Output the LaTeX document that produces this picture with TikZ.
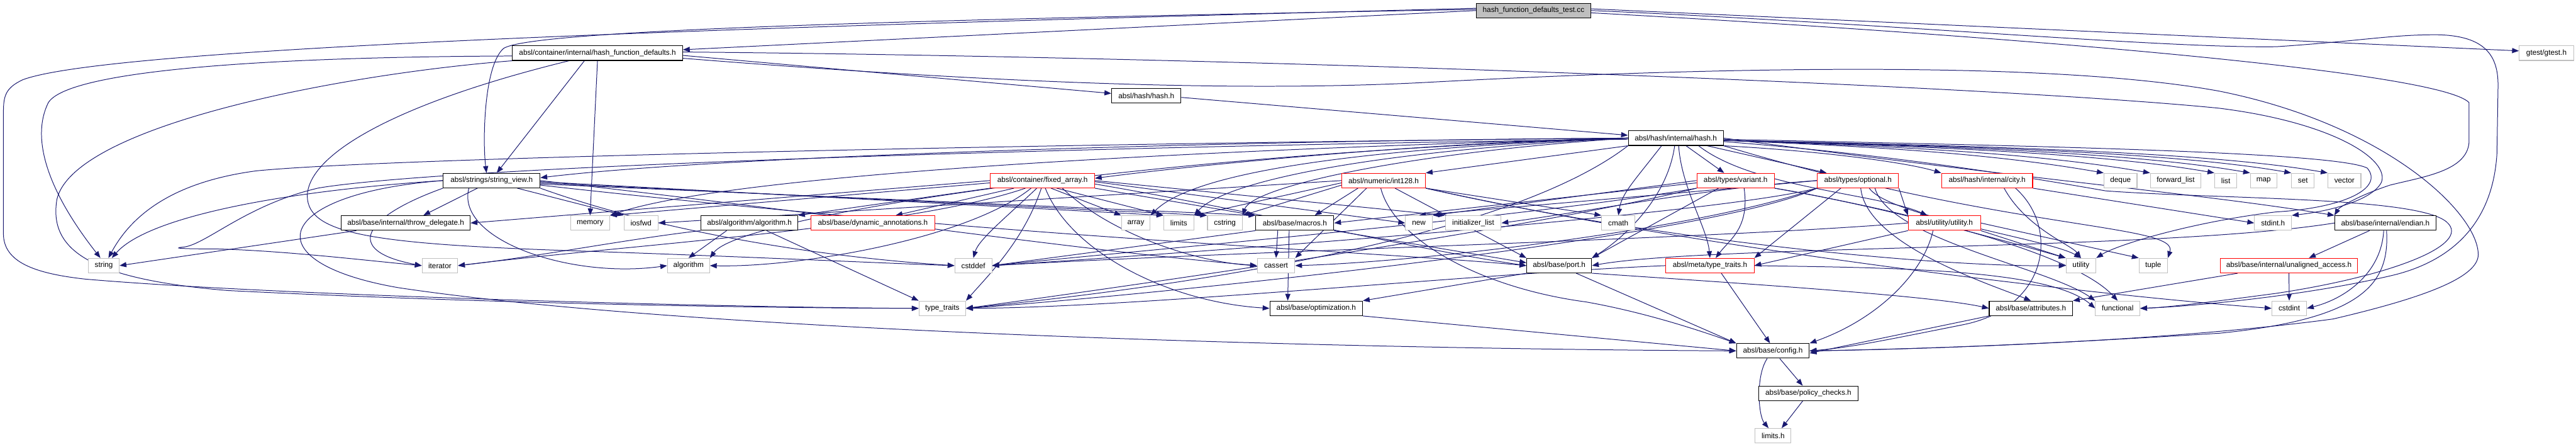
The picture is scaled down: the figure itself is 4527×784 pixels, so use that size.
\documentclass[tikz,border=0pt]{standalone}
\usepackage{fontspec}
\setmainfont{Liberation Sans}
\usetikzlibrary{arrows.meta,backgrounds}
\definecolor{edgeblue}{RGB}{25,25,112}
\definecolor{sysgray}{RGB}{191,191,191}
\definecolor{rootgray}{RGB}{191,191,191}
\definecolor{truncred}{RGB}{255,0,0}

\begin{document}
\begin{tikzpicture}[x=1pt,y=1pt,
    box/.style={draw, line width=1.2pt, fill=white, minimum height=25.6pt, inner xsep=0pt, inner ysep=0pt, font=\fontsize{13}{15}\selectfont},
    doc/.style={box, draw=black},
    trunc/.style={box, draw=truncred},
    sysh/.style={box, draw=sysgray},
    rootfile/.style={box, draw=black, fill=rootgray},
    edge/.style={draw=edgeblue, line width=1.1pt, -{Triangle[length=12pt,width=9pt]}}]
      \useasboundingbox (0,0) rectangle (4527,-784);
      % rows 0-3
      \node[rootfile, minimum width=201pt] (root) at (2695,-18.5) {hash\_function\_defaults\_test.cc};
      \node[doc, minimum width=299pt] (hfd) at (1050,-93.3) {absl/container/internal/hash\_function\_defaults.h};
      \node[sysh, minimum width=95.5pt] (gtest) at (4475,-93.3) {gtest/gtest.h};
      \node[doc, minimum width=122pt] (hash) at (2014.5,-168) {absl/hash/hash.h};
      \node[doc, minimum width=167pt] (ihash) at (2945,-242.5) {absl/hash/internal/hash.h};
      % row 4
      \node[doc, minimum width=170pt] (sview) at (864,-317) {absl/strings/string\_view.h};
      \node[trunc, minimum width=183pt] (fixedarr) at (1832,-317) {absl/container/fixed\_array.h};
      \node[trunc, minimum width=147pt] (int128) at (2431.5,-317) {absl/numeric/int128.h};
      \node[trunc, minimum width=136pt] (variant) at (3050,-317) {absl/types/variant.h};
      \node[trunc, minimum width=143pt] (optional) at (3265,-317) {absl/types/optional.h};
      \node[trunc, minimum width=160pt] (city) at (3492,-317) {absl/hash/internal/city.h};
      \node[sysh, minimum width=58pt] (deque) at (3726.5,-317) {deque};
      \node[sysh, minimum width=89pt] (fwdlist) at (3823.5,-317) {forward\_list};
      \node[sysh, minimum width=39pt] (stdlist) at (3911.5,-317) {list};
      \node[sysh, minimum width=46.5pt] (stdmap) at (3978,-317) {map};
      \node[sysh, minimum width=40pt] (stdset) at (4047,-317) {set};
      \node[sysh, minimum width=58pt] (vector) at (4120,-317) {vector};
      % row 5
      \node[doc, minimum width=226.5pt] (throwd) at (713,-391.5) {absl/base/internal/throw\_delegate.h};
      \node[sysh, minimum width=69pt] (memory) at (1037,-391.5) {memory};
      \node[sysh, minimum width=60pt] (iosfwd) at (1126.5,-391.5) {iosfwd};
      \node[doc, minimum width=170pt] (algoh) at (1317,-391.5) {absl/algorithm/algorithm.h};
      \node[trunc, minimum width=217pt] (dynann) at (1534,-391.5) {absl/base/dynamic\_annotations.h};
      \node[sysh, minimum width=50.5pt] (array) at (1996,-391.5) {array};
      \node[sysh, minimum width=53pt] (limits) at (2071.5,-391.5) {limits};
      \node[sysh, minimum width=61pt] (cstring) at (2152.5,-391.5) {cstring};
      \node[doc, minimum width=137pt] (macros) at (2275.5,-391.5) {absl/base/macros.h};
      \node[sysh, minimum width=47pt] (new) at (2493.5,-391.5) {new};
      \node[sysh, minimum width=98pt] (initlist) at (2589,-391.5) {initializer\_list};
      \node[sysh, minimum width=58.5pt] (cmath) at (2844,-391.5) {cmath};
      \node[trunc, minimum width=127pt] (utilh) at (3417,-391.5) {absl/utility/utility.h};
      \node[sysh, minimum width=65pt] (stdinth) at (3994.5,-391.5) {stdint.h};
      \node[doc, minimum width=178pt] (endian) at (4192,-391.5) {absl/base/internal/endian.h};
      % row 6
      \node[sysh, minimum width=54pt] (string) at (182.5,-466.3) {string};
      \node[sysh, minimum width=62.5pt] (iterator) at (773,-466.3) {iterator};
      \node[sysh, minimum width=74pt] (algorithm) at (1210,-466.3) {algorithm};
      \node[sysh, minimum width=65pt] (cstddef) at (1710.5,-466.3) {cstddef};
      \node[sysh, minimum width=66pt] (cassert) at (2242.5,-466.3) {cassert};
      \node[doc, minimum width=114pt] (port) at (2740,-466.3) {absl/base/port.h};
      \node[trunc, minimum width=155pt] (metatt) at (3005,-466.3) {absl/meta/type\_traits.h};
      \node[sysh, minimum width=52.6pt] (utility) at (3657,-466.3) {utility};
      \node[sysh, minimum width=50pt] (tuple) at (3784,-466.3) {tuple};
      \node[trunc, minimum width=241.7pt] (unaligned) at (4022.5,-466.3) {absl/base/internal/unaligned\_access.h};
      % row 7-10
      \node[sysh, minimum width=82pt] (typetraits) at (1656,-541.3) {type\_traits};
      \node[doc, minimum width=163pt] (optim) at (2313,-541.3) {absl/base/optimization.h};
      \node[doc, minimum width=146.5pt] (attributes) at (3569,-541.3) {absl/base/attributes.h};
      \node[sysh, minimum width=78pt] (functional) at (3721.5,-541.3) {functional};
      \node[sysh, minimum width=61pt] (cstdint) at (4023,-541.3) {cstdint};
      \node[doc, minimum width=128pt] (config) at (3115.6,-616) {absl/base/config.h};
      \node[doc, minimum width=175pt] (policy) at (3178,-690.5) {absl/base/policy\_checks.h};
      \node[sysh, minimum width=63pt] (limitsh) at (3116,-765) {limits.h};

      \begin{scope}[on background layer]
      % test file
      \draw[edge] (root.west) -- ([yshift=6pt]hfd.east);
      \draw[edge] ([yshift=3pt]root.east) -- ([yshift=4pt]gtest.west);
      \draw[edge] ([yshift=2pt]root.west) .. controls (1500,-36) and (930,-55) .. (885,-85) .. controls (850,-115) and (848,-250) .. ([xshift=-9pt]sview.north);
      \draw[edge] ([yshift=4pt]root.west) .. controls (1400,-45) and (200,-80) .. (40,-140) .. controls (8,-155) and (6,-170) .. (6,-200) -- (6,-410) .. controls (6,-460) and (60,-480) .. (150,-490) .. controls (500,-520) and (1300,-540) .. (typetraits.west);
      \draw[edge] (root.east) .. controls (3300,-40) and (3800,-85) .. (4000,-82) .. controls (4150,-72) and (4200,-61) .. (4281,-61) .. controls (4370,-62) and (4390,-100) .. (4390,-150) -- (4388,-270) .. controls (4380,-400) and (4300,-460) .. (4206,-483) .. controls (4050,-520) and (3850,-538) .. (functional.east);
      \draw[edge] ([yshift=-4pt]root.east) .. controls (3400,-55) and (4280,-120) .. (4339,-180) -- (4339,-250) .. controls (4335,-300) and (4260,-310) .. (4200,-325) .. controls (4140,-345) and (4110,-365) .. (endian.north west);
      % hash_function_defaults.h
      \draw[edge] ([yshift=-4pt]hfd.east) -- ([yshift=4pt]hash.west);
      \draw[edge] ([xshift=-23pt]hfd.south) -- ([xshift=9pt]sview.north);
      \draw[edge] (hfd.south) -- (memory.north);
      \draw[edge] ([yshift=-5pt]hfd.west) .. controls (450,-100) and (120,-125) .. (85,-180) .. controls (55,-240) and (80,-330) .. ([xshift=-6pt]string.north);
      \draw[edge] (hfd.south west) .. controls (600,-130) and (130,-220) .. (100,-350) .. controls (85,-440) and (160,-490) .. (400,-510) .. controls (900,-535) and (1400,-541) .. (typetraits.west);
      \draw[edge] ([xshift=-50pt]hfd.south) .. controls (700,-180) and (540,-270) .. (540,-345) .. controls (542,-410) and (650,-428) .. (1000,-440) .. controls (1300,-450) and (1550,-462) .. (cstddef.west);
      \draw[edge] ([yshift=2pt]hfd.east) .. controls (2200,-100) and (3500,-150) .. (3900,-190) .. controls (4100,-215) and (4200,-280) .. (4185,-320) .. controls (4170,-350) and (4100,-370) .. (stdinth.north east);
      \draw[edge] ([yshift=-9pt]hfd.east) .. controls (1800,-150) and (2200,-160) .. (2500,-145) .. controls (3000,-118) and (3600,-105) .. (3900,-160) .. controls (4200,-220) and (4360,-380) .. (4355,-450) .. controls (4350,-490) and (4250,-525) .. (4100,-560) .. controls (3800,-600) and (3400,-612) .. (config.east);
      % hash.h
      \draw[edge] ([yshift=-3pt]hash.east) -- ([yshift=5pt]ihash.west);
      % internal/hash.h
      \draw[edge] (ihash.south west) -- (int128.north east);
      \draw[edge] ([xshift=-25pt]ihash.south) .. controls (2870,-320) and (2850,-340) .. (cmath.north);
      \draw[edge] ([xshift=18pt]ihash.south) -- ([xshift=-20pt]variant.north);
      \draw[edge] ([xshift=55pt]ihash.south) -- ([xshift=-55pt]optional.north);
      \draw[edge] ([xshift=5pt]ihash.south) .. controls (2955,-330) and (3000,-400) .. (metatt.north);
      \draw[edge] ([xshift=-2pt]ihash.south) .. controls (2930,-350) and (2850,-420) .. (port.north east);
      \draw[edge] ([xshift=40pt]ihash.south) .. controls (3080,-330) and (3300,-340) .. ([xshift=-30pt]utilh.north);
      \draw[edge] (ihash.south east) .. controls (3200,-265) and (3350,-285) .. (city.north west);
      \foreach \n/\dx in {deque/250,fwdlist/300,stdlist/350,stdmap/400,stdset/450,vector/500}
        \draw[edge] ([yshift=-4pt]ihash.east) .. controls +(\dx,-10) and +(-200,35) .. (\n.north west);
      \draw[edge] (ihash.east) .. controls +(600,-80) and +(-250,40) .. (endian.north west);
      \draw[edge] ([yshift=-6pt]ihash.east) .. controls (3300,-270) and (3500,-300) .. (3700,-335) .. controls (3900,-350) and (4250,-345) .. (4300,-390) .. controls (4345,-430) and (4200,-485) .. (4000,-515) .. controls (3850,-535) and (3800,-540) .. (functional.east);
      \draw[edge] ([yshift=-2pt]ihash.east) .. controls (3500,-255) and (4100,-265) .. (4160,-295) .. controls (4190,-330) and (4120,-365) .. (4000,-372) .. controls (3850,-390) and (3720,-430) .. (utility.north east);
      \draw[edge] (ihash.south east) .. controls +(500,-150) and +(20,60) .. (tuple.north east);
      \draw[edge] (ihash.west) .. controls (2300,-245) and (1300,-270) .. ([yshift=5pt]sview.east);
      \draw[edge] (ihash.west) .. controls (2000,-250) and (700,-275) .. (450,-300) .. controls (300,-320) and (230,-380) .. ([xshift=8pt]string.north);
      \draw[edge] ([yshift=-2pt]ihash.west) .. controls (2000,-255) and (800,-290) .. (560,-330) .. controls (430,-360) and (360,-432) .. (320,-434) .. controls (300,-436) and (330,-437) .. (380,-437) .. controls (500,-440) and (650,-458) .. (iterator.west);
      \draw[edge] (ihash.west) .. controls (2200,-260) and (1300,-300) .. (memory.north east);
      \draw[edge] (ihash.west) .. controls (2000,-270) and (1300,-380) .. (algorithm.north east);
      \draw[edge] (ihash.west) .. controls (2500,-250) and (2100,-290) .. ([yshift=4pt]fixedarr.east);
      \draw[edge] (ihash.west) .. controls (2400,-260) and (2100,-300) .. (array.north east);
      \draw[edge] (ihash.west) .. controls (2400,-265) and (2150,-320) .. (limits.north east);
      \draw[edge] (ihash.west) .. controls (2450,-270) and (2200,-330) .. (cstring.north east);
      \draw[edge] (ihash.south west) .. controls (2700,-380) and (2300,-480) .. (typetraits.east);
      % string_view.h
      \draw[edge] ([xshift=-25pt]sview.south) -- ([xshift=31pt]throwd.north);
      \draw[edge] ([xshift=45pt]sview.south) -- (iosfwd.north west);
      \draw[edge] (sview.west) .. controls (500,-335) and (260,-380) .. ([xshift=14pt]string.north);
      \draw[edge] (sview.south west) .. controls (640,-380) and (600,-440) .. (iterator.west);
      \draw[edge] ([xshift=-40pt]sview.south) .. controls (800,-420) and (1000,-490) .. (algorithm.west);
      \draw[edge] (sview.south east) .. controls (1200,-420) and (1500,-455) .. (cstddef.west);
      \draw[edge] (sview.east) .. controls (1500,-380) and (1900,-440) .. (cassert.west);
      \draw[edge] ([yshift=-4pt]sview.east) -- (cstring.north west);
      \draw[edge] ([yshift=-2pt]sview.east) -- (limits.north west);
      \draw[edge] ([yshift=-6pt]sview.east) -- (macros.north west);
      \draw[edge] ([yshift=-8pt]sview.east) .. controls (1800,-420) and (2400,-440) .. (port.west);
      \draw[edge] (sview.west) .. controls (480,-340) and (440,-460) .. (700,-505) .. controls (1200,-580) and (2300,-612) .. (config.west);
      % fixed_array.h
      \draw[edge] (fixedarr.south west) -- (algoh.north east);
      \draw[edge] ([xshift=-50pt]fixedarr.south) -- ([xshift=40pt]dynann.north);
      \draw[edge] (fixedarr.west) -- (throwd.east);
      \draw[edge] ([yshift=-4pt]fixedarr.west) -- (memory.north east);
      \draw[edge] ([xshift=-30pt]fixedarr.south) .. controls (1600,-400) and (1100,-430) .. (iterator.east);
      \draw[edge] ([xshift=-20pt]fixedarr.south) .. controls (1700,-420) and (1400,-470) .. (algorithm.east);
      \draw[edge] ([xshift=-10pt]fixedarr.south) .. controls (1770,-380) and (1720,-420) .. (cstddef.north);
      \draw[edge] ([xshift=-2pt]fixedarr.south) .. controls (1800,-420) and (1740,-480) .. (typetraits.north east);
      \draw[edge] ([xshift=15pt]fixedarr.south) -- (array.north west);
      \draw[edge] ([xshift=25pt]fixedarr.south) -- (limits.north west);
      \draw[edge] (fixedarr.south east) -- (macros.north west);
      \draw[edge] ([xshift=5pt]fixedarr.south) .. controls (1880,-440) and (2050,-530) .. (optim.west);
      \draw[edge] ([xshift=35pt]fixedarr.south) .. controls (1950,-410) and (2100,-460) .. (cassert.west);
      \draw[edge] ([yshift=-6pt]fixedarr.east) .. controls (2200,-370) and (2500,-440) .. (port.west);
      \draw[edge] ([yshift=-2pt]fixedarr.east) -- (new.west);
      \draw[edge] (fixedarr.east) -- (initlist.north west);
      % int128.h
      \draw[edge] ([xshift=-45pt]int128.south) -- ([xshift=35pt]macros.north);
      \draw[edge] (int128.south east) -- (cmath.north west);
      \draw[edge] (int128.west) -- (iosfwd.east);
      \draw[edge] ([yshift=-4pt]int128.west) -- (limits.north east);
      \draw[edge] ([yshift=-8pt]int128.west) -- (cstring.north east);
      \draw[edge] ([xshift=-30pt]int128.south) -- (cassert.north east);
      \draw[edge] ([xshift=20pt]int128.south) -- (port.north west);
      \draw[edge] ([xshift=-5pt]int128.south) .. controls (2450,-420) and (2600,-505) .. (2787,-530) .. controls (2900,-550) and (3000,-585) .. (config.north west);
      \draw[edge] (int128.south east) .. controls (2900,-420) and (3400,-470) .. (utility.west);
      \draw[edge] (int128.south east) .. controls (3000,-440) and (3700,-520) .. (cstdint.west);
      % variant.h
      \draw[edge] ([xshift=15pt]variant.south) .. controls (3075,-400) and (3040,-420) .. ([xshift=10pt]metatt.north);
      \draw[edge] ([xshift=-30pt]variant.south) -- (port.north east);
      \draw[edge] (variant.west) -- (new.north east);
      \draw[edge] ([yshift=-4pt]variant.west) -- (macros.east);
      \draw[edge] (variant.south west) .. controls (2700,-380) and (2000,-440) .. (cstddef.east);
      \draw[edge] (variant.south west) .. controls (2700,-400) and (2000,-500) .. (typetraits.east);
      \draw[edge] (variant.south east) .. controls (3400,-380) and (3650,-450) .. (functional.north);
      \draw[edge] (variant.south east) .. controls (3300,-360) and (3550,-430) .. (utility.north west);
      % optional.h
      \draw[edge] (optional.south east) -- (utilh.north west);
      \draw[edge] ([xshift=-30pt]optional.south) -- (metatt.north east);
      \draw[edge] (optional.west) .. controls (3000,-330) and (2800,-370) .. (initlist.east);
      \draw[edge] (optional.west) .. controls (3000,-335) and (2700,-360) .. (new.north);
      \draw[edge] (optional.south west) .. controls (3000,-400) and (2500,-460) .. (cassert.east);
      \draw[edge] (optional.south west) .. controls (3000,-380) and (2000,-450) .. (cstddef.east);
      \draw[edge] (optional.south west) .. controls (3000,-420) and (2000,-520) .. (typetraits.east);
      \draw[edge] ([xshift=30pt]optional.south) .. controls (3320,-420) and (3600,-470) .. (functional.north west);
      \draw[edge] ([xshift=20pt]optional.south) .. controls (3320,-380) and (3600,-420) .. (utility.north);
      \draw[edge] ([xshift=5pt]optional.south) .. controls (3280,-430) and (3500,-500) .. (attributes.north);
      % utility.h
      \draw[edge] (utilh.south east) -- (utility.north west);
      \draw[edge] (utilh.east) -- (tuple.north west);
      \draw[edge] (utilh.south west) -- (metatt.east);
      \draw[edge] ([xshift=-20pt]utilh.south) .. controls (3380,-480) and (3300,-560) .. (config.north east);
      \draw[edge] (utilh.west) .. controls (3000,-420) and (2200,-440) .. (cstddef.east);
      % city.h
      \draw[edge] (city.south east) -- (stdinth.west);
      \draw[edge] ([xshift=30pt]city.south) .. controls (3560,-400) and (3640,-430) .. (utility.north);
      \draw[edge] ([xshift=50pt]city.south) .. controls (3620,-400) and (3600,-540) .. (3450,-570) .. controls (3300,-600) and (3250,-610) .. (config.east);
      % endian.h
      \draw[edge] ([xshift=-28pt]endian.south) -- ([xshift=35pt]unaligned.north);
      \draw[edge] ([xshift=-3pt]endian.south) .. controls (4185,-480) and (4120,-525) .. (cstdint.east);
      \draw[edge] ([xshift=2pt]endian.south) .. controls (4200,-500) and (4150,-560) .. (3900,-585) .. controls (3500,-610) and (3300,-614) .. (config.east);
      \draw[edge] (endian.west) .. controls (3800,-440) and (3000,-430) .. (port.east);
      % remaining headers
      \draw[edge] (unaligned.south) -- (cstdint.north);
      \draw[edge] ([xshift=-90pt]unaligned.south) -- (attributes.north east);
      \draw[edge] (metatt.west) .. controls (2600,-480) and (2000,-540) .. (typetraits.east);
      \draw[edge] ([xshift=20pt]metatt.south) -- ([xshift=-5pt]config.north);
      \draw[edge] (metatt.east) .. controls (3300,-470) and (3600,-470) .. (functional.west);
      \draw[edge] ([xshift=30pt]port.south) -- (config.north west);
      \draw[edge] (port.south west) -- (optim.north east);
      \draw[edge] (port.south east) .. controls (3100,-500) and (3400,-520) .. (attributes.west);
      \draw[edge] ([xshift=-30pt]macros.south) -- (cassert.north);
      \draw[edge] ([xshift=-10pt]macros.south) -- ([xshift=-50pt]optim.north);
      \draw[edge] (macros.south east) -- ([yshift=5pt]port.west);
      \draw[edge] (macros.south west) -- (cstddef.east);
      \draw[edge] (optim.south east) -- (config.west);
      \draw[edge] (attributes.south west) -- ([yshift=-4pt]config.east);
      \draw[edge] ([xshift=-10pt]config.south) .. controls (3085,-660) and (3090,-730) .. ([xshift=-8pt]limitsh.north);
      \draw[edge] ([xshift=12pt]config.south) -- ([xshift=-10pt]policy.north);
      \draw[edge] ([xshift=-10pt]policy.south) -- ([xshift=15pt]limitsh.north);
      \draw[edge] ([xshift=-40pt]algoh.south) -- (algorithm.north);
      \draw[edge] ([xshift=30pt]algoh.south) -- (typetraits.north west);
      \draw[edge] (algoh.south west) .. controls (1100,-420) and (950,-450) .. (iterator.east);
      \draw[edge] ([xshift=27pt]throwd.south west) -- (string.east);
      \end{scope}
    \end{tikzpicture}
\end{document}
